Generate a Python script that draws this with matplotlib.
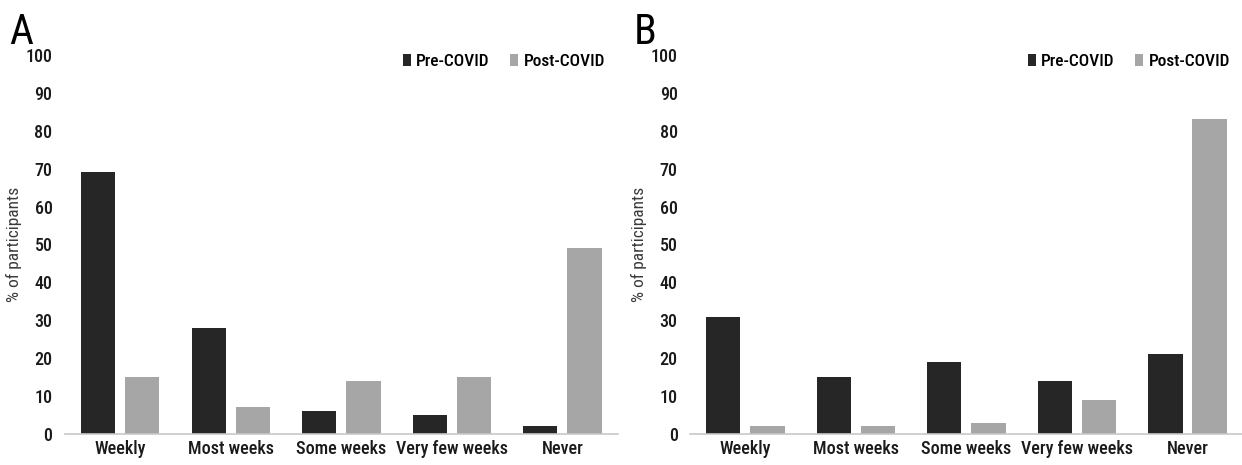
import matplotlib.pyplot as plt
import numpy as np

categories = ['Weekly', 'Most weeks', 'Some weeks', 'Very few weeks', 'Never']
pre_a = [69, 28, 6, 5, 2]
post_a = [15, 7, 14, 15, 49]
pre_b = [31, 15, 19, 14, 21]
post_b = [2, 2, 3, 9, 83]
yticks = list(range(0, 101, 10))

PRE_COLOR = '#262626'
POST_COLOR = '#a6a6a6'

plt.rcParams['font.family'] = ['Roboto Condensed', 'Liberation Sans Narrow', 'Liberation Sans', 'DejaVu Sans']
plt.rcParams['font.weight'] = 'medium'

fig = plt.figure(figsize=(12.42, 4.65), dpi=100)


def draw_panel(rect, pre, post, letter, letter_x):
    ax = fig.add_axes(rect)
    x = np.arange(len(categories))
    w = 0.31
    ax.bar(x - 0.045 - w / 2, pre, width=w, color=PRE_COLOR, label='Pre-COVID')
    ax.bar(x + 0.045 + w / 2, post, width=w, color=POST_COLOR, label='Post-COVID')
    ax.set_xlim(-0.5, 4.5)
    ax.set_ylim(0, 100)
    ax.set_yticks(yticks)
    ax.set_xticks(x)
    ax.set_xticklabels(categories, fontsize=13, color='#1a1a1a')
    ax.tick_params(axis='y', labelsize=13, length=0, pad=9, labelcolor='#1a1a1a')
    ax.tick_params(axis='x', length=0, pad=4)
    for s in ['top', 'right', 'left']:
        ax.spines[s].set_visible(False)
    ax.spines['bottom'].set_color('#c8c8c8')
    ax.spines['bottom'].set_linewidth(1.2)
    ax.set_ylabel('% of participants', fontsize=12.5, color='#3a3a3a')
    ax.yaxis.set_label_coords(-0.078, 0.5)
    ax.legend(loc='upper right', bbox_to_anchor=(1.005, 1.045), ncol=2, frameon=False,
              fontsize=12.5, handlelength=0.45, handleheight=0.7, handletextpad=0.3,
              columnspacing=1.2)
    fig.text(letter_x, 0.975, letter, fontsize=30, fontweight='normal', va='top', ha='left')
    return ax


draw_panel([0.0523, 0.0667, 0.445, 0.815], pre_a, post_a, 'A', 0.007)
draw_panel([0.5556, 0.0667, 0.445, 0.815], pre_b, post_b, 'B', 0.510)

fig.savefig('out.png', dpi=100)
